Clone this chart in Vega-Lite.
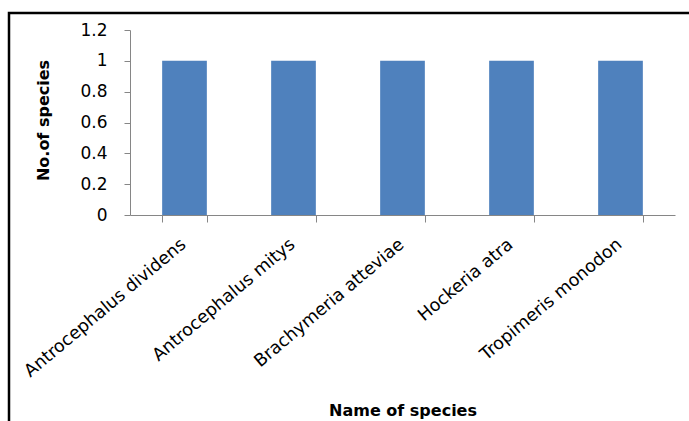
{
  "$schema": "https://vega.github.io/schema/vega-lite/v6.json",
  "width": 690,
  "height": 420,
  "autosize": {"type": "none"},
  "padding": {"left": 9, "top": 13, "right": 0, "bottom": 0},
  "background": "white",
  "config": {
    "view": {"stroke": "black", "strokeWidth": 2.5},
    "font": "DejaVu Sans"
  },
  "data": {
    "values": [
      {"species": "Antrocephalus dividens", "count": 1},
      {"species": "Antrocephalus mitys", "count": 1},
      {"species": "Brachymeria atteviae", "count": 1},
      {"species": "Hockeria atra", "count": 1},
      {"species": "Tropimeris monodon", "count": 1}
    ]
  },
  "mark": {"type": "bar", "color": "#4F81BD"},
  "encoding": {
    "x": {
      "field": "species",
      "type": "nominal",
      "sort": null,
      "scale": {"range": [121, 666], "paddingInner": 0.59, "paddingOuter": 0.295},
      "axis": {
        "title": "Name of species",
        "orient": "bottom",
        "offset": -218,
        "labelAngle": -40,
        "labelFontSize": 17.5,
        "labelColor": "black",
        "labelPadding": 13,
        "labelOffset": -7,
        "labelLimit": 0,
        "tickBand": "extent",
        "tickSize": 7,
        "tickColor": "#868686",
        "domainColor": "#868686",
        "grid": false,
        "titleFontSize": 16,
        "titleFontWeight": "bold",
        "titleColor": "black",
        "titleY": 195,
        "titleBaseline": "middle"
      }
    },
    "y": {
      "field": "count",
      "type": "quantitative",
      "scale": {"domain": [0, 1.2], "range": [202, 17], "nice": false},
      "axis": {
        "title": "No.of species",
        "orient": "left",
        "offset": -121,
        "values": [0, 0.2, 0.4, 0.6, 0.8, 1, 1.2],
        "labelExpr": "'' + datum.value",
        "labelFontSize": 17,
        "labelColor": "black",
        "labelPadding": 17,
        "tickSize": 6,
        "tickColor": "#868686",
        "domainColor": "#868686",
        "grid": false,
        "titleFontSize": 16,
        "titleFontWeight": "bold",
        "titleColor": "black",
        "titleAngle": -90,
        "titleX": -87,
        "titleY": 107,
        "titleAlign": "center",
        "titleBaseline": "middle"
      }
    }
  }
}
